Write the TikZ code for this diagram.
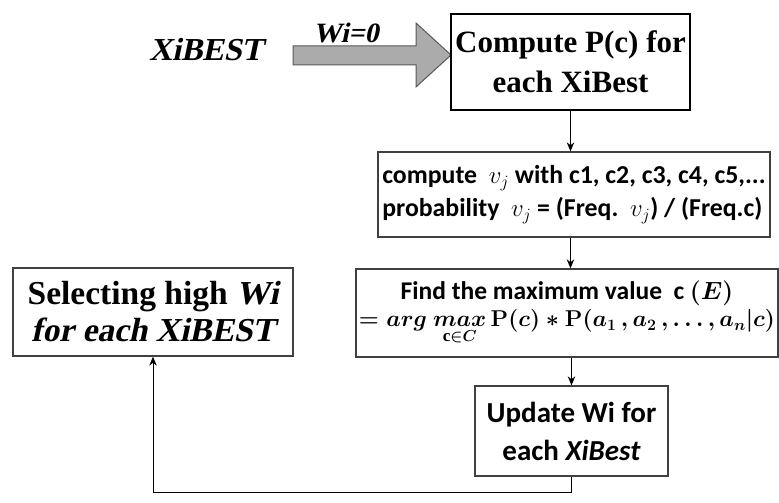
\documentclass[tikz,border=0pt]{standalone}
\usepackage{amsmath}
\usepackage{graphicx}
\usepackage{fontspec}
\setmainfont{Liberation Serif}
\newfontfamily\slserif[FakeSlant=0.21]{Liberation Serif}
\newfontfamily\calib{Carlito}
\usetikzlibrary{arrows.meta}
\begin{document}
\begin{tikzpicture}[x=1pt,y=-1pt,
  box/.style={draw=black!75, line width=1.3pt, fill=white, inner sep=0pt, align=center},
  flow/.style={-{Stealth[length=9pt,width=7.5pt]}, line width=1pt},
  bigarrow/.style={fill=black!33, draw=black!65, line width=1pt, line join=miter},
]
\useasboundingbox (0,0) rectangle (779,503);
\fill[white] (0,0) rectangle (779,503);

% input label and the fat arrow feeding the first step
\node[font=\slserif\fontsize{32}{32}\selectfont\bfseries] (src) at (206,50) {XiBEST};
\coordinate (tip) at (451,55);
\draw[bigarrow] (293,46) -- (416,46) -- (416,23) -- (tip) -- (416,87) -- (416,65) -- (293,65) -- cycle;
\node[font=\slserif\fontsize{28}{28}\selectfont\bfseries, anchor=base] (w0) at (346,43) {Wi=0};

% processing steps
\node[box, draw=black, minimum width=239pt, minimum height=96pt,
      font=\fontsize{31}{40}\selectfont\bfseries] (compute) at (570.5,62)
  {Compute P(c) for\\each XiBest};

\node[box, minimum width=392pt, minimum height=85pt, align=left,
      font=\calib\fontsize{25.8}{33}\selectfont\bfseries] (prob) at (574,194.5)
  {compute\ \ $v_j$ with c1, c2, c3, c4, c5,...\\probability\ \ $v_j$ = (Freq.\ \ $v_j$) / (Freq.c)};

\node[box, minimum width=422pt, minimum height=88pt] (argmax) at (567,313)
  {{\calib\fontsize{25.5}{25.5}\selectfont\bfseries Find the maximum value\ \ c \boldmath$(E)$}\\[3pt]
   \resizebox{416pt}{!}{\fontsize{22}{22}\selectfont\boldmath
    $= \mathnormal{arg}\ \underset{\mathrm{c}\in C}{\mathnormal{max}}\,\mathbf{P}(c)\ast\mathbf{P}(a_1\,,a_2\,,\dots,a_n|c)$}};

\node[box, minimum width=193pt, minimum height=90pt,
      font=\calib\fontsize{29}{38}\selectfont\bfseries] (update) at (571.5,431)
  {Update Wi for\\each \textit{XiBest}};

\node[box, minimum width=280pt, minimum height=88pt,
      font=\fontsize{33.5}{37}\selectfont\bfseries] (select) at (153,312)
  {Selecting high {\slserif Wi}\\{\slserif for each XiBEST}};

% connectors
\draw[flow] (compute.south) -- (compute.south |- prob.north);
\draw[flow] (compute.south |- prob.south) -- (compute.south |- argmax.north);
\draw[flow] (update.north |- argmax.south) -- (update.north);
\draw[flow] (update.south) -- ++(0,16) -| (select.south);
\end{tikzpicture}
\end{document}
